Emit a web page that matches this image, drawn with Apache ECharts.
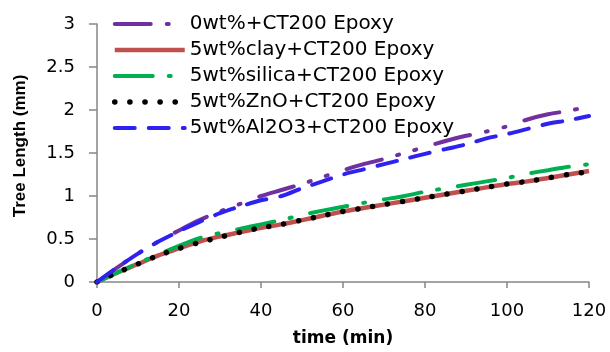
<!DOCTYPE html>
<html>
<head>
<meta charset="utf-8">
<script src="https://cdn.jsdelivr.net/npm/echarts@6/dist/echarts.min.js"></script>
<style>
  html, body { margin: 0; padding: 0; background: #fff; }
  #chart { width: 610px; height: 352px; }
</style>
</head>
<body>
<div id="chart"></div>
<script>
// time axis (min)
const times = [0, 5, 10, 15, 20, 25, 30, 35, 40, 45, 50, 55, 60, 65, 70, 75, 80, 85, 90, 95, 100, 105, 110, 115, 120];

// tree length (mm) per sample
const epoxy0 = [0, 0.17, 0.33, 0.47, 0.6, 0.72, 0.82, 0.91, 1.0, 1.07, 1.14, 1.22, 1.3, 1.37, 1.43, 1.5, 1.57, 1.64, 1.7, 1.75, 1.81, 1.89, 1.95, 1.99, 2.04];
const clay5 = [0, 0.11, 0.21, 0.31, 0.39, 0.47, 0.53, 0.58, 0.63, 0.67, 0.72, 0.77, 0.82, 0.86, 0.9, 0.94, 0.98, 1.02, 1.06, 1.1, 1.14, 1.17, 1.21, 1.25, 1.29];
const silica5 = [0, 0.11, 0.22, 0.32, 0.42, 0.51, 0.57, 0.62, 0.67, 0.72, 0.78, 0.83, 0.875, 0.92, 0.96, 1.0, 1.05, 1.09, 1.13, 1.17, 1.21, 1.26, 1.3, 1.34, 1.37];
const zno5 = [0, 0.11, 0.21, 0.31, 0.39, 0.46, 0.52, 0.58, 0.63, 0.67, 0.72, 0.77, 0.82, 0.86, 0.9, 0.94, 0.98, 1.02, 1.06, 1.1, 1.14, 1.17, 1.21, 1.25, 1.28];
const al2o35 = [0, 0.17, 0.33, 0.47, 0.59, 0.7, 0.8, 0.88, 0.95, 1.0, 1.09, 1.17, 1.25, 1.31, 1.37, 1.43, 1.49, 1.545, 1.6, 1.67, 1.72, 1.78, 1.84, 1.88, 1.93];

const names = ['0wt%+CT200 Epoxy', '5wt%clay+CT200 Epoxy', '5wt%silica+CT200 Epoxy', '5wt%ZnO+CT200 Epoxy', '5wt%Al2O3+CT200 Epoxy'];

const pair = arr => times.map((t, i) => [t, arr[i]]);

const chart = echarts.init(document.getElementById('chart'));

const mk = (name, data, color, width, dash, cap) => ({
  name: name,
  type: 'line',
  data: pair(data),
  symbol: 'none',
  showSymbol: false,
  smooth: 0.3,
  color: color,
  lineStyle: { color: color, width: width, type: dash, cap: cap || 'butt' }
});

chart.setOption({
  animation: false,
  grid: { left: 97, right: 21, top: 24, bottom: 69 },
  legend: {
    left: 107,
    top: 9,
    orient: 'vertical',
    itemWidth: 70,
    itemHeight: 14,
    itemGap: 6,
    itemStyle: { opacity: 0 },
    lineStyle: { width: 'inherit' },
    textStyle: { fontFamily: 'DejaVu Sans', fontSize: 20, color: '#000', lineHeight: 20 },
    data: names
  },
  xAxis: {
    type: 'value',
    min: 0, max: 120, interval: 20,
    name: 'time (min)',
    nameLocation: 'middle',
    nameGap: 48,
    nameTextStyle: { fontFamily: 'DejaVu Sans', fontWeight: 'bold', fontSize: 17, color: '#000' },
    axisLine: { lineStyle: { color: '#868686', width: 1.5 } },
    axisTick: { show: true, length: 6, lineStyle: { color: '#868686', width: 1.5 } },
    axisLabel: { margin: 20, fontFamily: 'DejaVu Sans', fontSize: 18, color: '#000' },
    splitLine: { show: false }
  },
  yAxis: {
    type: 'value',
    min: 0, max: 3, interval: 0.5,
    name: 'Tree Length (mm)',
    nameLocation: 'middle',
    nameGap: 68,
    nameTextStyle: { fontFamily: 'Liberation Sans', fontWeight: 'bold', fontSize: 17, color: '#000', padding: [0, 0, 0, 14] },
    axisLine: { show: true, lineStyle: { color: '#868686', width: 1.5 } },
    axisTick: { show: true, length: 8, lineStyle: { color: '#868686', width: 1.5 } },
    axisLabel: { margin: 22, fontFamily: 'DejaVu Sans', fontSize: 18, color: '#000' },
    splitLine: { show: false }
  },
  series: [
    mk(names[0], epoxy0, '#7030A0', 4, [36, 16, 2, 16, 2, 20], 'round'),
    mk(names[1], clay5, '#C0504D', 4.5, 'solid'),
    mk(names[2], silica5, '#00B050', 4, [38, 16, 2, 19], 'round'),
    mk(names[3], zno5, '#000000', 5.5, [0.1, 15], 'round'),
    mk(names[4], al2o35, '#2E22F0', 4, [20, 14], 'round')
  ]
});
</script>
</body>
</html>
